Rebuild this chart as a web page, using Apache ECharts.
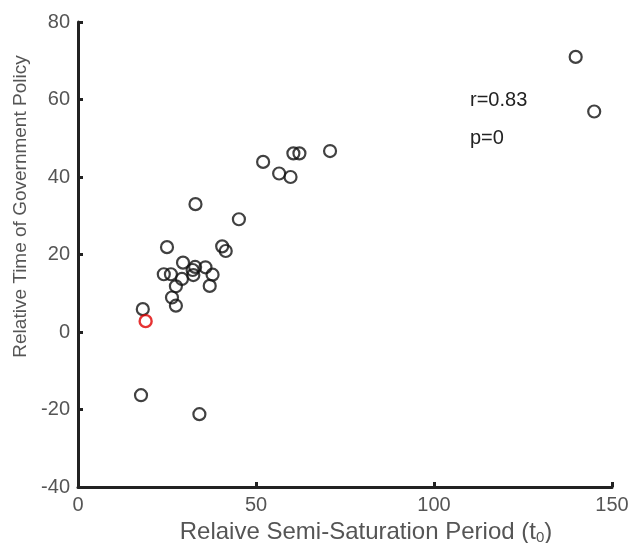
<!DOCTYPE html>
<html>
<head>
<meta charset="utf-8">
<script src="https://cdn.jsdelivr.net/npm/echarts@6/dist/echarts.min.js"></script>
<style>
html,body{margin:0;padding:0;background:#fff;}
#chart{width:633px;height:543px;}
</style>
</head>
<body>
<div id="chart"></div>
<script>
// Relative semi-saturation period (x) vs relative time of government policy (y)
const xValues = [17.7, 34.1, 18.2, 27.5, 26.4, 27.5, 29.2, 37.0, 24.1, 26.1, 32.4, 32.2, 32.9, 35.8, 37.8, 29.5, 25.0, 40.5, 41.5, 45.2, 33.0, 52.0, 56.5, 59.7, 60.5, 62.2, 70.8, 139.8, 145.0];
const yValues = [-16.3, -21.2, 5.9, 6.8, 8.9, 11.8, 13.7, 11.9, 14.9, 14.9, 14.7, 16.0, 16.8, 16.7, 14.8, 17.9, 21.9, 22.1, 20.9, 29.1, 33.0, 43.9, 40.9, 40.0, 46.1, 46.1, 46.7, 71.0, 56.9];
const highlightX = [19.0];
const highlightY = [2.8];
const xTicks = [0, 50, 100, 150];
const yTicks = [-40, -20, 0, 20, 40, 60, 80];
const statLabels = ['r=0.83', 'p=0'];

const blackData = xValues.map((x, i) => [x, yValues[i]]);
const redData = highlightX.map((x, i) => [x, highlightY[i]]);

const FONT = '"Liberation Sans", Arial, Helvetica, sans-serif';
const chart = echarts.init(document.getElementById('chart'), null, {renderer: 'canvas'});

const axisCommon = {
  axisLine: {show: true, onZero: false, lineStyle: {color: '#222', width: 3}},
  axisTick: {show: true, inside: true, length: 5, lineStyle: {color: '#222', width: 3}},
  splitLine: {show: false},
  axisLabel: {color: '#555', fontSize: 20, fontFamily: FONT}
};

chart.setOption({
  animation: false,
  backgroundColor: '#fff',
  grid: {left: 78, right: 21, top: 22, bottom: 56, containLabel: false, outerBoundsMode: 'none'},
  xAxis: Object.assign({}, axisCommon, {
    type: 'value',
    min: xTicks[0], max: xTicks[xTicks.length - 1], interval: 50,
    axisLabel: Object.assign({}, axisCommon.axisLabel, {margin: 8}),
    name: 'Relaive Semi-Saturation Period (t{sub|0})',
    nameLocation: 'middle',
    nameGap: 24,
    nameTextStyle: {
      color: '#555', fontSize: 24, fontFamily: FONT,
      padding: [0, 0, 0, 42],
      rich: {sub: {fontSize: 15, color: '#555', fontFamily: FONT, verticalAlign: 'bottom', padding: [12, 0, 0, 0]}}
    }
  }),
  yAxis: Object.assign({}, axisCommon, {
    type: 'value',
    min: yTicks[0], max: yTicks[yTicks.length - 1], interval: 20,
    axisLabel: Object.assign({}, axisCommon.axisLabel, {margin: 8}),
    name: 'Relative Time of Government Policy',
    nameLocation: 'middle',
    nameGap: 46,
    nameTextStyle: {color: '#555', fontSize: 19, fontFamily: FONT, padding: [0, 0, 0, 96]}
  }),
  graphic: [
    {type: 'text', left: 470, top: 90, style: {text: statLabels[0], fill: '#222', font: '20px ' + FONT}},
    {type: 'text', left: 470, top: 128, style: {text: statLabels[1], fill: '#222', font: '20px ' + FONT}}
  ],
  series: [
    {
      type: 'scatter', data: blackData, symbol: 'circle', symbolSize: 12,
      itemStyle: {color: 'rgba(0,0,0,0)', borderColor: '#111', borderWidth: 2.2},
      emphasis: {disabled: true}, z: 2
    },
    {
      type: 'scatter', data: redData, symbol: 'circle', symbolSize: 12,
      itemStyle: {color: 'rgba(0,0,0,0)', borderColor: '#e00000', borderWidth: 2.4},
      emphasis: {disabled: true}, z: 3
    }
  ]
});
</script>
</body>
</html>
